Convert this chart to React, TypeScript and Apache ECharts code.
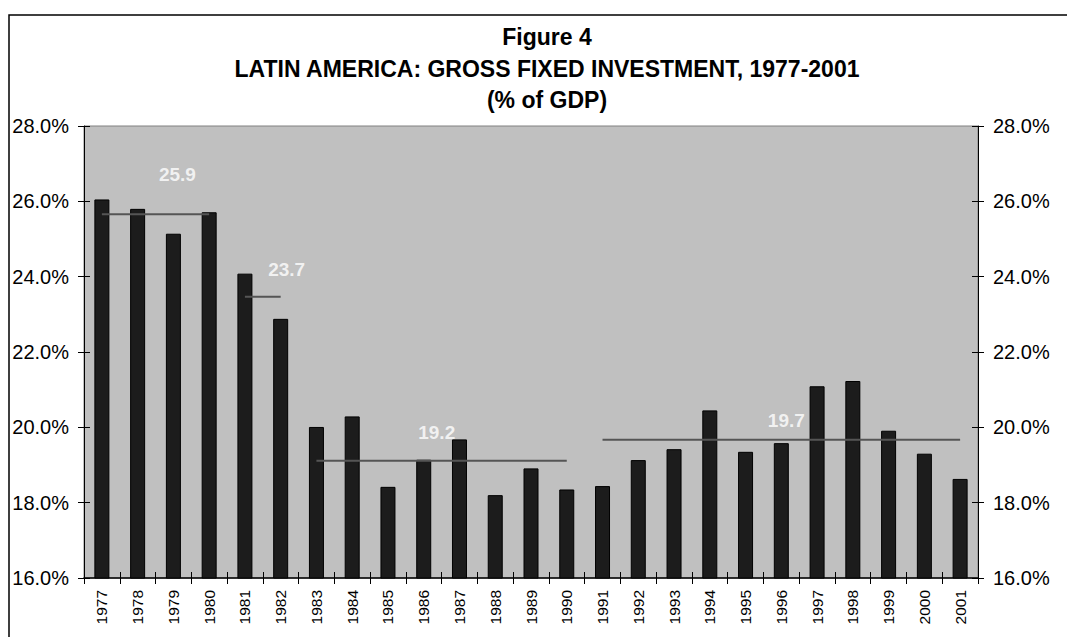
import React, { useEffect, useRef } from "react";
import * as echarts from "echarts";

const years = [
  "1977", "1978", "1979", "1980", "1981", "1982", "1983", "1984", "1985",
  "1986", "1987", "1988", "1989", "1990", "1991", "1992", "1993", "1994",
  "1995", "1996", "1997", "1998", "1999", "2000", "2001",
];
const investment = [
  26.05, 25.8, 25.14, 25.71, 24.08, 22.88, 20.01, 20.29, 18.42, 19.14, 19.68,
  18.2, 18.91, 18.35, 18.44, 19.13, 19.42, 20.45, 19.35, 19.58, 21.09, 21.23,
  19.91, 19.3, 18.63,
];
const avgStart = ["1977", "1981", "1983", "1991"];
const avgEnd = ["1980", "1982", "1990", "2001"];
const avgValues = [25.66, 23.47, 19.11, 19.67];
const avgLabels = ["25.9", "23.7", "19.2", "19.7"];
const avgLabelYears = ["1979", "1982", "1986", "1996"];
const avgLabelValues = [26.7, 24.2, 19.85, 20.17];
const yTicks = { min: 16, max: 28, interval: 2 };
const titleLines = [
  "Figure 4",
  "LATIN AMERICA: GROSS FIXED INVESTMENT, 1977-2001",
  "(% of GDP)",
];

const labelOffsets = [[4, 0], [6, 0], [13, 0], [5, 0]];
const FONT = "'Liberation Sans', Arial, Helvetica, sans-serif";

export default function App() {
  const ref = useRef<HTMLDivElement>(null);
  useEffect(() => {
    if (!ref.current) return;
    const chart = echarts.init(ref.current, null, { renderer: "svg" });

    const avgSeries = avgValues.map((v, i) => {
      const s = years.indexOf(avgStart[i]);
      const e = years.indexOf(avgEnd[i]);
      return {
        type: "line",
        name: "avg" + i,
        data: years.map((_, k) => (k >= s && k <= e ? v : null)),
        symbol: "none",
        connectNulls: false,
        lineStyle: { color: "#555555", width: 2 },
        z: 5,
        silent: true,
      };
    });

    const yAxisBase = (position: string, inside: boolean, showLabel: boolean) => ({
      type: "value",
      position,
      min: yTicks.min,
      max: yTicks.max,
      interval: yTicks.interval,
      splitLine: { show: false },
      axisLine: { show: !inside, lineStyle: { color: "#000", width: 1 } },
      axisTick: { show: true, inside, length: 6, lineStyle: { color: "#000", width: 1 } },
      axisLabel: {
        show: showLabel,
        formatter: (v: number) => v.toFixed(1) + "%",
        color: "#000",
        fontSize: 20,
        fontFamily: FONT,
        margin: 15,
      },
    });

    const xAxisBase = (inside: boolean, showLabel: boolean) => ({
      type: "category",
      data: years,
      position: "bottom",
      boundaryGap: true,
      axisLine: { show: !inside, onZero: false, lineStyle: { color: "#000", width: 1.5 } },
      axisTick: { show: true, inside, length: 6, lineStyle: { color: "#000", width: 1 } },
      axisLabel: {
        show: showLabel,
        rotate: 90,
        interval: 0,
        color: "#000",
        fontSize: 15.5,
        fontFamily: FONT,
        margin: 12,
      },
      splitLine: { show: false },
    });

    chart.setOption({
      animation: false,
      backgroundColor: "#ffffff",
      grid: {
        left: 84,
        right: 89,
        top: 126,
        bottom: 59,
        show: true,
        backgroundColor: "#c0c0c0",
        borderColor: "#808080",
        borderWidth: 1,
      },
      xAxis: [xAxisBase(false, true), xAxisBase(true, false)],
      yAxis: [
        yAxisBase("left", false, true),
        yAxisBase("right", false, true),
        yAxisBase("left", true, false),
        yAxisBase("right", true, false),
      ],
      series: [
        {
          type: "bar",
          name: "Gross fixed investment",
          data: investment,
          barWidth: 15,
          itemStyle: { color: "#1c1c1c", borderColor: "#000", borderWidth: 1 },
          z: 3,
        },
        ...avgSeries,
        {
          type: "scatter",
          name: "labels",
          symbolSize: 0,
          silent: true,
          z: 6,
          data: avgLabelYears.map((y, i) => ({
            value: [y, avgLabelValues[i]],
            name: avgLabels[i],
            label: { offset: labelOffsets[i] },
          })),
          label: {
            show: true,
            position: "inside",
            formatter: (p: any) => p.name,
            color: "#ffffff",
            fontWeight: "bold",
            fontSize: 19,
            fontFamily: FONT,
          },
        },
      ],
      graphic: [
        {
          type: "rect",
          shape: { x: 9, y: 15, width: 1200, height: 800 },
          style: { fill: "none", stroke: "#000", lineWidth: 1.5 },
          silent: true,
          z: 100,
        },
        ...titleLines.map((t, i) => ({
          type: "text",
          x: 547,
          y: [37, 69, 100][i],
          style: {
            text: t,
            textAlign: "center",
            textVerticalAlign: "middle",
            fill: "#000",
            font: "bold 23px " + FONT,
          },
          silent: true,
          z: 100,
        })),
      ],
    });
    return () => chart.dispose();
  }, []);
  return (
    <div
      ref={ref}
      style={{ position: "absolute", left: 0, top: 0, width: 1067, height: 637 }}
    />
  );
}
